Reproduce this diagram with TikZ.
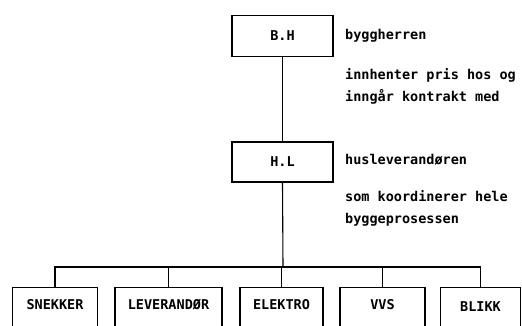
\documentclass[tikz,border=0pt]{standalone}
\usepackage{fontspec}
\setmonofont{DejaVu Sans Mono}
\begin{document}
\begin{tikzpicture}[x=1pt,y=-1pt,
  every node/.style={font=\ttfamily\bfseries\fontsize{13.5}{22}\selectfont},
  box/.style={draw,line width=1.2pt,minimum width=101pt,minimum height=41pt,inner sep=0pt},
  lbl/.style={anchor=west,inner sep=0pt,align=left},
  conn/.style={line width=1.1pt}]
\useasboundingbox (0,0) rectangle (522,325);
\clip (0,0) rectangle (522,325);
\node[box] (bh) at (282.5,36) {B.H};
\node[box,minimum height=40pt] (hl) at (282.5,162) {H.L};
\node[lbl] (t1) at (345,36) {byggherren};
\node[lbl] (t2) at (345,86) {innhenter pris hos og\\inngår kontrakt med};
\node[lbl] (t3) at (345,160) {husleverandøren};
\node[lbl] (t4) at (345,208) {som koordinerer hele\\byggeprosessen};
% bottom boxes (open at the bottom edge)
\tikzset{sub/.style={draw,line width=1.2pt,minimum height=60pt,inner sep=0pt,anchor=north}}
\node[sub,minimum width=85pt] (s1) at (55,287) {};
\node[sub,minimum width=107pt] (s2) at (168.5,287) {};
\node[sub,minimum width=83pt] (s3) at (281.5,287) {};
\node[sub,minimum width=85pt] (s4) at (382.5,287) {};
\node[sub,minimum width=80pt] (s5) at (480.5,287) {};
\node (l1) at (55,305) {SNEKKER};
\node (l2) at (168.5,305) {LEVERANDØR};
\node (l3) at (281.5,305) {ELEKTRO};
\node (l4) at (382.5,305) {VVS};
\node (l5) at (480.5,307) {BLIKK};
\coordinate (bus) at (283,267);
\draw[conn] (bh.south) -- (hl.north);
\draw[conn] (hl.south) -- (bus);
\draw[conn] (s1.north) |- (bus) -| (s5.north);
\draw[conn] (s2.north) -- (s2.north |- bus);
\draw[conn] (s3.north) -- (s3.north |- bus);
\draw[conn] (s4.north) -- (s4.north |- bus);
\end{tikzpicture}
\end{document}
